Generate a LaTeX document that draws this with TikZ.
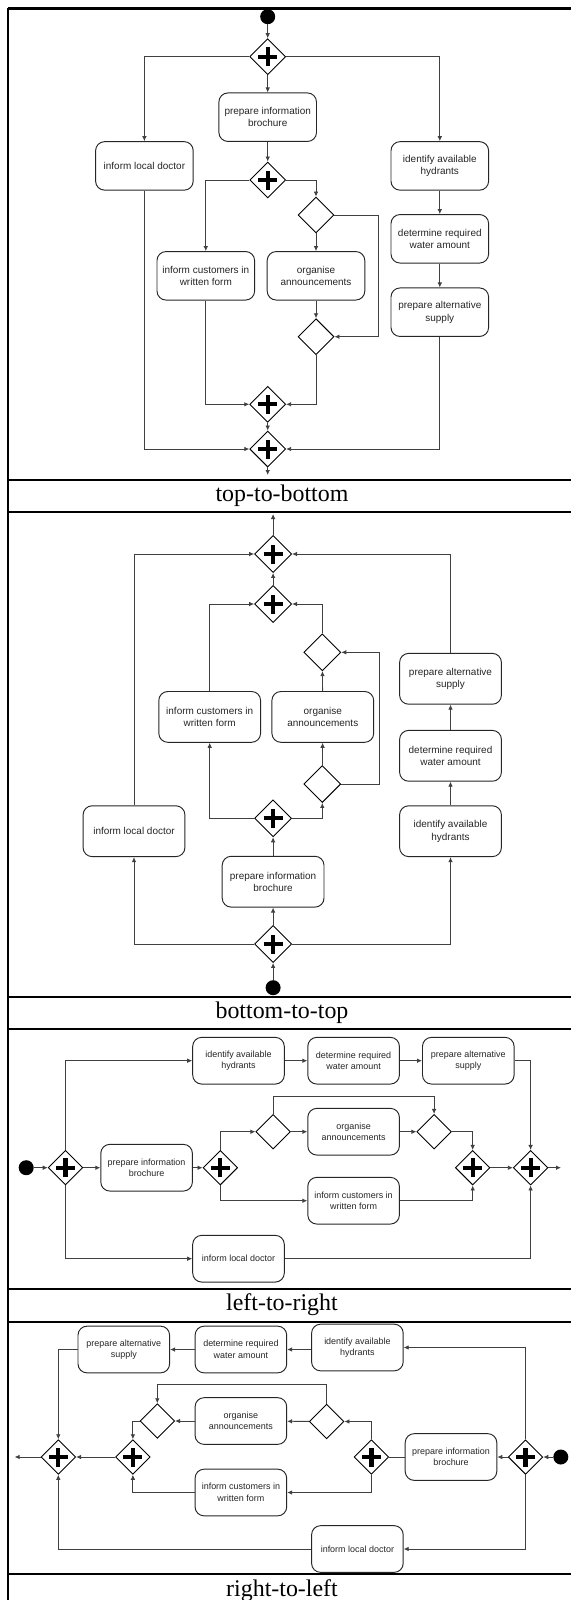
\documentclass[tikz,border=0pt]{standalone}
\usepackage{fontspec}
\setmainfont{Liberation Serif}
\setsansfont{Liberation Sans}
\usetikzlibrary{shapes.geometric,arrows.meta}
\begin{document}
\begin{tikzpicture}[x=1bp,y=-1bp,
  conn/.style={draw=black!75,line width=0.85bp},
  arr/.style={conn,-{Latex[length=5bp,width=4.6bp]}},
  task/.style={draw=black!85,line width=0.95bp,rounded corners=9bp,align=center,inner sep=0pt,
    text=black!85,font=\sffamily\fontsize{10}{12.5}\selectfont,minimum width=97.6bp,minimum height=48.5bp},
  taskB/.style={task,minimum width=101.8bp,minimum height=50.8bp},
  taskC/.style={task,font=\sffamily\fontsize{9}{11.5}\selectfont,minimum width=91.6bp,minimum height=46.7bp},
  gw/.style={diamond,draw=black,line width=0.9bp,aspect=1,inner sep=0pt,minimum width=36bp,minimum height=36bp},
  gwc/.style={gw,minimum width=34.6bp,minimum height=34.6bp},
  crossmark/.style={path picture={\draw[line width=4.2bp,black]
     ([xshift=-9.5bp]path picture bounding box.center) -- ([xshift=9.5bp]path picture bounding box.center)
     ([yshift=-9.5bp]path picture bounding box.center) -- ([yshift=9.5bp]path picture bounding box.center);}},
  startnode/.style={circle,fill=black,inner sep=0pt,minimum size=15bp},
  frame/.style={line width=2.6bp,black},
  caption/.style={font=\fontsize{24}{26}\selectfont}
]
\useasboundingbox (0,0) rectangle (571,1600);
% frame
\draw[frame] (8,8.5) -- (571,8.5);
\draw[frame] (8,8) -- (8,1600);
\draw[frame] (8,480) -- (571,480);
\draw[frame] (8,512) -- (571,512);
\draw[frame] (8,997) -- (571,997);
\draw[frame] (8,1029) -- (571,1029);
\draw[frame] (8,1289) -- (571,1289);
\draw[frame] (8,1322) -- (571,1322);
\draw[frame] (8,1574) -- (571,1574);
\node[caption] (capA) at (282,496) {top-to-bottom};
\node[caption] (capB) at (282,1013) {bottom-to-top};
\node[caption] (capC) at (282,1305) {left-to-right};
\node[caption] (capD) at (282,1591) {right-to-left};

% ===== Panel A: top-to-bottom
\node[startnode] (a0) at (267.7,16.7) {};
\node[gw,crossmark] (a1) at (267.7,56.7) {};
\node[task] (abro) at (267.7,117.2) {prepare information\\brochure};
\node[task] (adoc) at (144.4,165.9) {inform local doctor};
\node[task] (ahyd) at (439.8,165.9) {identify available\\hydrants};
\node[gw,crossmark] (a2) at (267.7,180) {};
\node[gw] (adiv) at (316,215) {};
\node[task] (acus) at (205.8,275.8) {inform customers in\\written form};
\node[task] (aorg) at (316,275.8) {organise\\announcements};
\node[task] (adet) at (439.8,238.8) {determine required\\water amount};
\node[task] (aalt) at (439.8,312.2) {prepare alternative\\supply};
\node[gw] (amer) at (316,336.7) {};
\node[gw,crossmark] (a3) at (267.7,404.3) {};
\node[gw,crossmark] (a4) at (267.7,449) {};
\coordinate (aend) at (267.7,475);
\coordinate (aloop) at (378.7,215);
\draw[arr] (a0) -- (a1);
\draw[arr] (a1.west) -| (adoc.north);
\draw[arr] (a1.east) -| (ahyd.north);
\draw[arr] (a1) -- (abro);
\draw[arr] (abro) -- (a2);
\draw[arr] (a2.west) -| (acus.north);
\draw[arr] (a2.east) -| (adiv.north);
\draw[arr] (adiv) -- (aorg);
\draw[arr] (adiv.east) -- (aloop) |- (amer.east);
\draw[arr] (aorg) -- (amer);
\draw[arr] (acus.south) |- (a3.west);
\draw[arr] (amer.south) |- (a3.east);
\draw[arr] (a3) -- (a4);
\draw[arr] (adoc.south) |- (a4.west);
\draw[arr] (aalt.south) |- (a4.east);
\draw[arr] (ahyd) -- (adet);
\draw[arr] (adet) -- (aalt);
\draw[arr] (a4) -- (aend);

% ===== Panel B: bottom-to-top
\node[startnode] (b0) at (273.1,987.7) {};
\node[gw,crossmark,minimum width=37bp,minimum height=37bp] (b1) at (273.1,944) {};
\node[taskB] (bbro) at (273.1,881.7) {prepare information\\brochure};
\node[taskB] (bdoc) at (134,831.2) {inform local doctor};
\node[taskB] (bhyd) at (450.5,831.2) {identify available\\hydrants};
\node[gw,crossmark,minimum width=37bp,minimum height=37bp] (b2) at (273.1,818.3) {};
\node[gw,minimum width=37bp,minimum height=37bp] (bdiv) at (322.3,784) {};
\node[taskB] (bcus) at (209.7,716.9) {inform customers in\\written form};
\node[taskB] (borg) at (322.8,716.9) {organise\\announcements};
\node[taskB] (bdet) at (450.5,755.8) {determine required\\water amount};
\node[taskB] (balt) at (450.5,678.8) {prepare alternative\\supply};
\node[gw,minimum width=37bp,minimum height=37bp] (bmer) at (322.3,652.3) {};
\node[gw,crossmark,minimum width=37bp,minimum height=37bp] (b3) at (273.1,604) {};
\node[gw,crossmark,minimum width=37bp,minimum height=37bp] (b4) at (273.1,554) {};
\coordinate (bend) at (273.1,514);
\coordinate (bloop) at (379.8,784);
\draw[arr] (b0) -- (b1);
\draw[arr] (b1.west) -| (bdoc.south);
\draw[arr] (b1.east) -| (bhyd.south);
\draw[arr] (b1) -- (bbro);
\draw[arr] (bbro) -- (b2);
\draw[arr] (b2.west) -| (bcus.south);
\draw[arr] (b2.east) -| (bdiv.south);
\draw[arr] (bdiv) -- (borg);
\draw[arr] (bdiv.east) -- (bloop) |- (bmer.east);
\draw[arr] (borg) -- (bmer);
\draw[arr] (bcus.north) |- (b3.west);
\draw[arr] (bmer.north) |- (b3.east);
\draw[arr] (b3) -- (b4);
\draw[arr] (bdoc.north) |- (b4.west);
\draw[arr] (balt.north) |- (b4.east);
\draw[arr] (bhyd) -- (bdet);
\draw[arr] (bdet) -- (balt);
\draw[arr] (b4) -- (bend);

% ===== Panel C: left-to-right
\node[startnode] (c0) at (26.2,1167.7) {};
\node[gwc,crossmark] (c1) at (65.5,1167.7) {};
\node[taskC] (cbro) at (146.6,1167.7) {prepare information\\brochure};
\node[gwc,crossmark] (c2) at (220.3,1167.7) {};
\node[gwc] (cdiv) at (273.1,1131.7) {};
\node[taskC] (corg) at (353.6,1131.7) {organise\\announcements};
\node[gwc] (cmer) at (434.1,1131.7) {};
\node[taskC] (ccus) at (353.6,1200.7) {inform customers in\\written form};
\node[gwc,crossmark] (c3) at (472.7,1167.7) {};
\node[gwc,crossmark] (c4) at (530.6,1167.7) {};
\coordinate (cend) at (561,1167.7);
\node[taskC] (chyd) at (238.5,1060.7) {identify available\\hydrants};
\node[taskC] (cdet) at (353.6,1060.7) {determine required\\water amount};
\node[taskC] (calt) at (468.3,1060.7) {prepare alternative\\supply};
\node[taskC] (cdoc) at (238.5,1258.7) {inform local doctor};
\coordinate (cloop) at (273.1,1096);
\draw[arr] (c0) -- (c1);
\draw[arr] (c1) -- (cbro);
\draw[arr] (cbro) -- (c2);
\draw[arr] (c1.north) |- (chyd.west);
\draw[arr] (c1.south) |- (cdoc.west);
\draw[arr] (chyd) -- (cdet);
\draw[arr] (cdet) -- (calt);
\draw[arr] (calt.east) -| (c4.north);
\draw[arr] (cdoc.east) -| (c4.south);
\draw[arr] (c2.north) |- (cdiv.west);
\draw[arr] (c2.south) |- (ccus.west);
\draw[arr] (cdiv) -- (corg);
\draw[arr] (corg) -- (cmer);
\draw[arr] (cdiv.north) -- (cloop) -| (cmer.north);
\draw[arr] (cmer.east) -| (c3.north);
\draw[arr] (ccus.east) -| (c3.south);
\draw[arr] (c3) -- (c4);
\draw[arr] (c4) -- (cend);

% ===== Panel D: right-to-left
\node[startnode] (d0) at (560.8,1457) {};
\node[gwc,crossmark] (d1) at (525.5,1457) {};
\node[taskC] (dbro) at (451,1457) {prepare information\\brochure};
\node[gwc,crossmark] (d2) at (371.4,1457) {};
\node[gwc] (ddiv) at (326.7,1421.5) {};
\node[taskC] (dorg) at (240.9,1421) {organise\\announcements};
\node[gwc] (dmer) at (157.3,1421) {};
\node[taskC] (dcus) at (240.9,1492.5) {inform customers in\\written form};
\node[gwc,crossmark] (d3) at (132.9,1457) {};
\node[gwc,crossmark] (d4) at (58.3,1457) {};
\coordinate (dend) at (14.6,1457);
\node[taskC] (dhyd) at (357.4,1347.5) {identify available\\hydrants};
\node[taskC] (ddet) at (240.9,1349.5) {determine required\\water amount};
\node[taskC] (dalt) at (123.8,1349.5) {prepare alternative\\supply};
\node[taskC] (ddoc) at (357.4,1549) {inform local doctor};
\coordinate (dloop) at (326.7,1384);
\draw[arr] (d0) -- (d1);
\draw[arr] (d1) -- (dbro);
\draw[conn] (dbro) -- (d2);
\draw[arr] (d1.north) |- (dhyd.east);
\draw[arr] (d1.south) |- (ddoc.east);
\draw[arr] (dhyd.west |- ddet.east) -- (ddet.east);
\draw[arr] (ddet) -- (dalt);
\draw[arr] (dalt.west) -| (d4.north);
\draw[arr] (ddoc.west) -| (d4.south);
\draw[arr] (d2.north) |- (ddiv.east);
\draw[arr] (d2.south) |- (dcus.east);
\draw[arr] (ddiv) -- (dorg);
\draw[arr] (dorg) -- (dmer);
\draw[arr] (ddiv.north) -- (dloop) -| (dmer.north);
\draw[arr] (dmer.west) -| (d3.north);
\draw[arr] (dcus.west) -| (d3.south);
\draw[arr] (d3) -- (d4);
\draw[arr] (d4) -- (dend);
\end{tikzpicture}
\end{document}
